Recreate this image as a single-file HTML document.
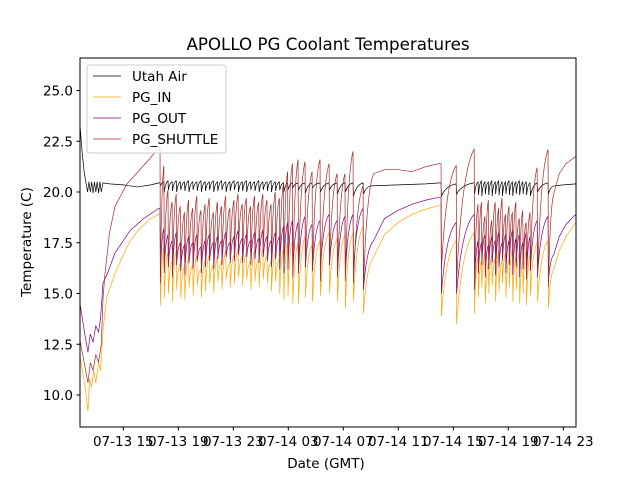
<!DOCTYPE html>
<html><head><meta charset="utf-8">
<style>
body{margin:0;background:#fff;}
svg{display:block;font-family:"DejaVu Sans","Liberation Sans",sans-serif;}
</style></head>
<body>
<svg id="chart" width="640" height="480" viewBox="0 0 640 480" xmlns="http://www.w3.org/2000/svg">
<rect x="0" y="0" width="640" height="480" fill="#fff"/>
<text x="328" y="50" font-size="16.7" text-anchor="middle">APOLLO PG Coolant Temperatures</text>
<g id="plot"></g>
<g id="axes"></g>
<text x="326" y="468" font-size="13.5" text-anchor="middle">Date (GMT)</text>
<text transform="translate(31,242) rotate(-90)" font-size="13.5" text-anchor="middle">Temperature (C)</text>
<g>
<rect x="87" y="65" width="139" height="88" rx="3" fill="#fff" fill-opacity="0.8" stroke="#ccc" stroke-width="1"/>
<line x1="93" y1="76" x2="121" y2="76" stroke="#000" stroke-width="0.7"/>
<text x="132" y="81" font-size="13.5">Utah Air</text>
<line x1="93" y1="97" x2="121" y2="97" stroke="#ffa500" stroke-width="0.7"/>
<text x="132" y="102" font-size="13.5">PG_IN</text>
<line x1="93" y1="118" x2="121" y2="118" stroke="#800080" stroke-width="0.7"/>
<text x="132" y="123" font-size="13.5">PG_OUT</text>
<line x1="93" y1="139" x2="121" y2="139" stroke="#a52a2a" stroke-width="0.7"/>
<text x="132" y="144" font-size="13.5">PG_SHUTTLE</text>
</g>
</svg>
<script>
// time in hours since 07-13 00:00 GMT
const xTickHours = [15,19,23,27,31,35,39,43,47];
const xTickLabels = ["07-13 15","07-13 19","07-13 23","07-14 03","07-14 07","07-14 11","07-14 15","07-14 19","07-14 23"];
const yTickValues = [10.0,12.5,15.0,17.5,20.0,22.5,25.0];
const yTickLabels = ["10.0","12.5","15.0","17.5","20.0","22.5","25.0"];

const teethTimes1 = [17.67,17.95,18.25,18.55,18.85,19.15,19.45,19.75,20.05,20.35,20.65,20.95,21.25,21.55,21.85,22.15,22.45,22.75,23.05,23.35,23.65,23.95,24.25,24.55,24.85,25.15,25.45,25.75,26.05,26.35,26.65,26.95,27.3,27.71,28.22,28.73,29.31,29.97,30.55,31.12,31.71,32.44];
const teethTimes2 = [38.11,39.21,40.52,40.8,41.05,41.3,41.55,41.8,42.05,42.3,42.55,42.8,43.05,43.3,43.55,43.8,44.05,44.3,44.58,45.1,45.89];

// PG_SHUTTLE
const shuttlePre = [[11.85,12.7],[12.43,10.6],[12.6,11.6],[12.8,11.2],[13.0,12.0],[13.2,11.6],[13.4,12.5],[13.52,14.7],[13.67,16.0],[14.0,18.0],[14.4,19.3],[15.27,20.4],[16.2,21.1],[17.0,21.7],[17.6,22.2]];
const shuttlePeaks1 = [22.2,21.3,20.1,19.5,19.9,19.3,19.0,19.6,19.2,19.8,19.1,19.4,19.7,19.0,19.5,19.3,19.8,19.2,19.6,19.9,19.4,19.7,19.3,19.8,19.5,19.9,19.6,19.4,20.0,19.7,20.4,21.0,21.4,21.6,21.5,21.0,21.6,21.4,20.9,20.9,22.0,20.3];
const shuttleTroughs1 = [15.5,16.0,16.3,15.8,16.5,16.1,15.9,16.6,16.2,16.8,16.0,16.4,16.7,16.3,16.9,16.5,17.0,16.6,16.8,17.1,16.7,17.0,16.5,16.9,16.6,17.0,16.8,16.4,16.9,16.3,16.0,16.2,15.8,16.0,16.3,16.1,15.6,16.4,15.8,15.6,15.5,15.3];
const shuttleMid = [[33.2,20.9],[34.0,21.1],[35.0,21.1],[36.0,21.0],[37.0,21.25],[38.0,21.4]];
const shuttlePeaks2 = [21.4,21.3,22.1,19.4,19.5,18.8,19.6,18.6,19.5,19.2,19.7,18.9,19.3,19.0,19.5,18.7,19.1,18.5,19.0,21.2,22.1];
const shuttleTroughs2 = [16.2,15.6,15.3,16.0,16.5,15.9,16.3,16.8,16.1,16.6,16.9,16.3,16.8,16.4,16.7,16.2,16.5,15.9,16.3,15.8,15.3];
const shuttleEnd = [[46.3,19.9],[46.7,20.9],[47.2,21.4],[47.6,21.6],[47.92,21.75]];

// PG_IN
const inPre = [[11.85,11.9],[12.2,10.5],[12.43,9.2],[12.55,10.8],[12.7,10.4],[12.85,11.2],[13.0,10.6],[13.2,11.6],[13.35,11.2],[13.52,13.2],[13.8,14.8],[14.4,16.0],[15.0,16.9],[15.5,17.6],[16.2,18.2],[17.0,18.7],[17.6,18.9]];
const inPeaks1 = [18.9,17.3,17.0,16.6,17.1,16.5,16.3,16.8,16.4,16.9,16.2,16.6,16.9,16.4,16.8,16.6,17.1,16.5,16.9,17.2,16.8,17.0,16.6,17.1,16.7,17.2,16.9,16.6,17.0,16.7,17.2,17.5,17.6,17.5,17.8,17.4,17.6,18.0,17.7,17.9,18.0,18.3];
const inTroughs1 = [14.4,14.8,15.0,14.6,15.2,14.8,14.7,15.3,14.9,15.4,14.8,15.1,15.5,15.0,15.6,15.2,15.7,15.3,15.5,15.8,15.4,15.7,15.2,15.6,15.3,15.7,15.5,15.1,15.6,15.0,14.7,14.9,14.5,14.5,14.8,14.6,14.9,15.0,14.6,14.3,14.6,14.0];
const inMid = [[33.2,16.8],[34.0,17.9],[35.0,18.5],[36.0,18.9],[37.0,19.15],[38.0,19.35]];
const inPeaks2 = [19.35,17.6,18.0,16.8,16.6,17.0,16.5,16.9,16.7,17.1,16.6,17.0,16.7,17.2,16.8,17.0,16.6,17.1,16.9,17.5,17.6];
const inTroughs2 = [13.9,13.5,14.0,14.8,15.3,14.5,15.0,15.4,14.6,15.1,15.5,14.8,15.3,14.6,15.2,14.5,15.0,14.4,14.9,14.6,14.3];
const inEnd = [[46.3,16.2],[46.7,17.1],[47.2,17.8],[47.6,18.2],[47.92,18.5]];

// PG_OUT
const outPre = [[11.85,14.5],[12.2,13.0],[12.43,12.1],[12.6,13.0],[12.8,12.6],[13.0,13.4],[13.2,13.1],[13.35,13.8],[13.52,15.5],[13.85,16.0],[14.4,17.0],[15.49,18.1],[16.5,18.7],[17.6,19.2]];
const outPeaks1 = [19.2,18.2,17.9,17.6,18.0,17.5,17.4,17.8,17.5,17.9,17.3,17.6,17.9,17.5,17.8,17.6,18.0,17.5,17.8,18.1,17.7,17.9,17.6,18.0,17.7,18.1,17.8,17.6,18.0,17.8,18.3,18.5,18.6,18.5,18.8,18.4,18.6,18.9,18.6,18.8,18.9,19.2];
const outTroughs1 = [15.8,16.1,16.3,15.9,16.4,16.1,16.0,16.5,16.2,16.6,16.0,16.3,16.6,16.2,16.7,16.4,16.8,16.5,16.6,16.9,16.5,16.8,16.4,16.7,16.5,16.8,16.6,16.3,16.7,16.2,16.0,16.2,15.9,16.0,16.3,16.1,16.2,16.4,16.0,15.9,16.1,15.2];
const outMid = [[33.2,17.6],[34.0,18.7],[35.0,19.1],[36.0,19.4],[37.0,19.6],[38.0,19.75]];
const outPeaks2 = [19.75,18.5,18.9,17.6,17.5,17.9,17.4,17.8,17.6,18.0,17.5,17.9,17.6,18.1,17.7,17.9,17.5,18.0,17.8,18.6,18.8];
const outTroughs2 = [15.0,15.0,15.2,16.0,16.4,15.8,16.2,16.5,15.9,16.3,16.6,16.0,16.4,15.9,16.3,15.8,16.2,15.7,16.1,15.9,15.6];
const outEnd = [[46.3,16.9],[46.7,17.8],[47.2,18.4],[47.6,18.7],[47.92,18.9]];

// Utah Air
const airPre = [[11.85,23.3],[12.0,22.0],[12.15,21.0],[12.3,20.4],[12.4,20.0],[12.5,20.5],[12.6,20.0],[12.7,20.5],[12.8,19.95],[12.9,20.5],[13.0,20.0],[13.1,20.5],[13.2,19.95],[13.3,20.5],[13.4,20.0],[13.52,20.45],[14.0,20.4],[15.0,20.35],[16.0,20.25],[17.0,20.35],[17.6,20.45]];
const airPeaks1 = [20.45,20.5,20.55,20.5,20.55,20.5,20.5,20.55,20.5,20.5,20.55,20.5,20.5,20.55,20.5,20.55,20.5,20.5,20.55,20.5,20.5,20.55,20.5,20.5,20.55,20.5,20.5,20.55,20.5,20.5,20.45,20.45,20.45,20.45,20.45,20.45,20.45,20.45,20.45,20.45,20.45,20.45];
const airTroughs1 = [20.3,20.0,20.1,20.05,20.0,20.1,20.05,20.0,20.1,20.05,20.0,20.05,20.1,20.0,20.05,20.1,20.0,20.05,20.1,20.0,20.05,20.0,20.1,20.05,20.0,20.1,20.05,20.0,20.05,20.1,20.0,20.1,20.2,20.1,19.95,20.2,20.0,20.1,19.9,20.0,19.8,19.9];
const airMid = [[33.0,20.3],[35.0,20.35],[37.0,20.4],[38.0,20.45]];
const airPeaks2 = [20.45,20.4,20.45,20.5,20.55,20.5,20.5,20.55,20.5,20.55,20.5,20.5,20.55,20.5,20.5,20.55,20.5,20.5,20.45,20.45,20.45];
const airTroughs2 = [19.8,19.9,19.9,19.85,19.8,19.9,19.85,19.8,19.9,19.85,19.8,19.9,19.85,19.8,19.9,19.85,19.9,19.85,19.8,20.0,19.9];
const airEnd = [[46.3,20.3],[47.0,20.35],[47.92,20.4]];

const X0 = 80, X1 = 576, Y0 = 58, Y1 = 427;
function xScale(h){ return 123.3 + (h - 15) * 13.75; }
function yScale(v){ return 192 - (v - 20) * 20.3; }
const NS = "http://www.w3.org/2000/svg";

function buildPath(pre, t1, p1, tr1, mid, t2, p2, tr2, end){
  let d = "";
  let cur = null;
  function line(h, v){
    const x = xScale(h), y = yScale(v);
    d += (d ? "L" : "M") + x.toFixed(2) + " " + y.toFixed(2);
    cur = [x, y];
  }
  function curve(h, v){
    const x = xScale(h), y = yScale(v);
    const cx = cur[0] + (x - cur[0]) * 0.3, cy = cur[1] + (y - cur[1]) * 0.85;
    d += "Q" + cx.toFixed(2) + " " + cy.toFixed(2) + " " + x.toFixed(2) + " " + y.toFixed(2);
    cur = [x, y];
  }
  pre.forEach(p => line(p[0], p[1]));
  function teeth(ts, ps, trs){
    for (let i = 0; i < ts.length; i++){
      curve(ts[i], ps[i]);
      line(ts[i] + 0.03, trs[i]);
    }
  }
  teeth(t1, p1, tr1);
  mid.forEach((p, i) => i === 0 ? curve(p[0], p[1]) : line(p[0], p[1]));
  teeth(t2, p2, tr2);
  end.forEach((p, i) => i === 0 ? curve(p[0], p[1]) : line(p[0], p[1]));
  return d;
}

const plot = document.getElementById("plot");
const clip = document.createElementNS(NS, "clipPath");
clip.setAttribute("id", "clipPlot");
const cr = document.createElementNS(NS, "rect");
cr.setAttribute("x", X0); cr.setAttribute("y", Y0);
cr.setAttribute("width", X1 - X0); cr.setAttribute("height", Y1 - Y0);
clip.appendChild(cr);
plot.appendChild(clip);

function addSeries(name, color, d){
  const p = document.createElementNS(NS, "path");
  
  
  p.setAttribute("d", d);
  p.setAttribute("fill", "none");
  p.setAttribute("stroke", color);
  p.setAttribute("stroke-width", "0.7");
  p.setAttribute("clip-path", "url(#clipPlot)");
  plot.appendChild(p);
}
addSeries("utah-air-line", "#000000", buildPath(airPre, teethTimes1, airPeaks1, airTroughs1, airMid, teethTimes2, airPeaks2, airTroughs2, airEnd));
addSeries("pg-in-line", "#ffa500", buildPath(inPre, teethTimes1, inPeaks1, inTroughs1, inMid, teethTimes2, inPeaks2, inTroughs2, inEnd));
addSeries("pg-out-line", "#800080", buildPath(outPre, teethTimes1, outPeaks1, outTroughs1, outMid, teethTimes2, outPeaks2, outTroughs2, outEnd));
addSeries("pg-shuttle-line", "#a52a2a", buildPath(shuttlePre, teethTimes1, shuttlePeaks1, shuttleTroughs1, shuttleMid, teethTimes2, shuttlePeaks2, shuttleTroughs2, shuttleEnd));

const axes = document.getElementById("axes");
const frame = document.createElementNS(NS, "rect");


frame.setAttribute("x", X0); frame.setAttribute("y", Y0);
frame.setAttribute("width", X1 - X0); frame.setAttribute("height", Y1 - Y0);
frame.setAttribute("fill", "none"); frame.setAttribute("stroke", "#000"); frame.setAttribute("stroke-width", "1");
axes.appendChild(frame);

xTickHours.forEach((h, i) => {
  const x = xScale(h);
  const t = document.createElementNS(NS, "line");
  
  
  t.setAttribute("x1", x); t.setAttribute("x2", x);
  t.setAttribute("y1", Y1); t.setAttribute("y2", Y1 + 3.5);
  t.setAttribute("stroke", "#000");
  axes.appendChild(t);
  const tx = document.createElementNS(NS, "text");
  
  
  tx.setAttribute("x", x); tx.setAttribute("y", Y1 + 19);
  tx.setAttribute("font-size", "13.5");
  tx.setAttribute("text-anchor", "middle");
  tx.textContent = xTickLabels[i];
  axes.appendChild(tx);
});
yTickValues.forEach((v, i) => {
  const y = yScale(v);
  const t = document.createElementNS(NS, "line");
  
  
  t.setAttribute("x1", X0 - 3.5); t.setAttribute("x2", X0);
  t.setAttribute("y1", y); t.setAttribute("y2", y);
  t.setAttribute("stroke", "#000");
  axes.appendChild(t);
  const tx = document.createElementNS(NS, "text");
  
  
  tx.setAttribute("x", X0 - 7); tx.setAttribute("y", y + 5);
  tx.setAttribute("font-size", "13.5");
  tx.setAttribute("text-anchor", "end");
  tx.textContent = yTickLabels[i];
  axes.appendChild(tx);
});
</script>
</body></html>
